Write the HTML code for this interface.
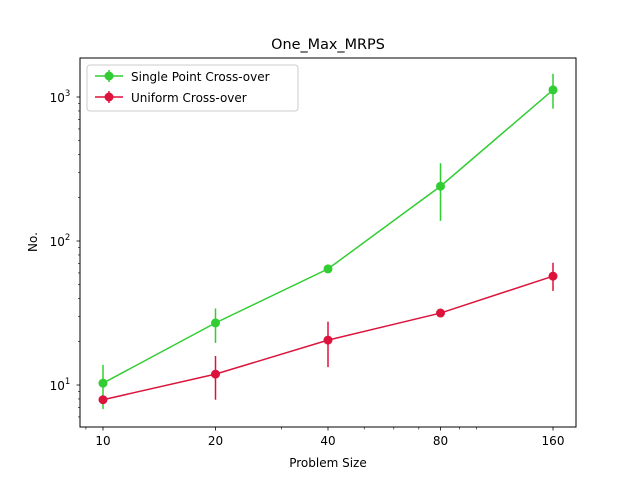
<!DOCTYPE html>
<html><head><meta charset="utf-8"><style>
body{margin:0;background:#fff;font-family:"DejaVu Sans","Liberation Sans",sans-serif;}
svg text{font-family:"DejaVu Sans","Liberation Sans",sans-serif;}
</style></head><body>
<svg id="chart" width="640" height="480" xmlns="http://www.w3.org/2000/svg">
<rect width="640" height="480" fill="#fff"/>
<text x="328" y="49" font-size="14.4" text-anchor="middle">One_Max_MRPS</text>
<g id="plot"></g>
<rect x="80" y="58" width="496" height="369" fill="none" stroke="#000" stroke-width="1"/>
<text x="328" y="467" font-size="12" text-anchor="middle">Problem Size</text>
<text x="37" y="242" font-size="12" text-anchor="middle" transform="rotate(-90 37 242)">No.</text>
<g>
<rect x="87" y="65" width="211" height="46" rx="3" fill="#fff" stroke="#ccc"/>
<line x1="95" y1="76" x2="123" y2="76" stroke="#32CD32" stroke-width="1.5"/><line x1="109" y1="70" x2="109" y2="82" stroke="#32CD32" stroke-width="1.5"/><circle cx="109" cy="76" r="4.5" fill="#32CD32"/>
<text x="131" y="81" font-size="12">Single Point Cross-over</text>
<line x1="95" y1="97" x2="123" y2="97" stroke="#DC143C" stroke-width="1.5"/><line x1="109" y1="91" x2="109" y2="103" stroke="#DC143C" stroke-width="1.5"/><circle cx="109" cy="97" r="4.5" fill="#DC143C"/>
<text x="131" y="102" font-size="12">Uniform Cross-over</text>
</g>
</svg>
<script>
const categories=[10,20,40,80,160];
const singleVals=[10.3,27,64,240,1120];
const singleLo=[6.8,19.6,62,138,830];
const singleHi=[13.8,34,66,347,1450];
const uniformVals=[7.9,11.9,20.5,31.6,57];
const uniformLo=[7.7,7.9,13.3,30.5,45];
const uniformHi=[8.1,15.9,27.5,32.8,70.6];
const xTickLabels=["10","20","40","80","160"];
const yMajor=[10,100,1000];
const NS="http://www.w3.org/2000/svg";
function X(v){return 103+112.5*Math.log2(v/10);}
function Y(v){return 385-144*(Math.log10(v)-1);}
const g=document.getElementById('plot');
function el(t,a){const e=document.createElementNS(NS,t);for(const k in a)e.setAttribute(k,a[k]);g.appendChild(e);return e;}
// x ticks
[9,30,50,60,70,90,100].forEach(v=>{const e=el('line',{x1:X(v),x2:X(v),y1:427,y2:429.5,stroke:'#000','stroke-width':0.6});

});
categories.forEach((c,i)=>{const e=el('line',{x1:X(c),x2:X(c),y1:427,y2:430.5,stroke:'#000','stroke-width':0.8});


const t=el('text',{x:X(c),y:445,'font-size':12,'text-anchor':'middle'});t.textContent=xTickLabels[i];

});
// y ticks
for(let d=0;d<4;d++){for(let m=1;m<10;m++){const v=Math.pow(10,d)*m;const y=Y(v);if(y<58||y>427)continue;
const major=m===1;const e=el('line',{x1:major?76.5:78,x2:80,y1:y,y2:y,stroke:'#000','stroke-width':major?0.8:0.6});

}}
yMajor.forEach(v=>{const t=el('text',{x:60,y:Y(v)+5,'font-size':12,'text-anchor':'middle'});


t.textContent='10';const s=document.createElementNS(NS,'tspan');s.setAttribute('dy','-6');s.setAttribute('font-size','8.5');s.textContent=String(Math.round(Math.log10(v)));t.appendChild(s);});
function series(vals,lo,hi,color,name){
const p=el('polyline',{points:categories.map((c,i)=>X(c)+','+Y(vals[i])).join(' '),fill:'none',stroke:color,'stroke-width':1.5});


categories.forEach((c,i)=>{const e=el('line',{x1:X(c),x2:X(c),y1:Y(lo[i]),y2:Y(hi[i]),stroke:color,'stroke-width':1.5});

});
categories.forEach((c,i)=>{const e=el('circle',{cx:X(c),cy:Y(vals[i]),r:4.5,fill:color});

});}
series(singleVals,singleLo,singleHi,'#32CD32','single-point');
series(uniformVals,uniformLo,uniformHi,'#DC143C','uniform');
</script>
</body></html>
